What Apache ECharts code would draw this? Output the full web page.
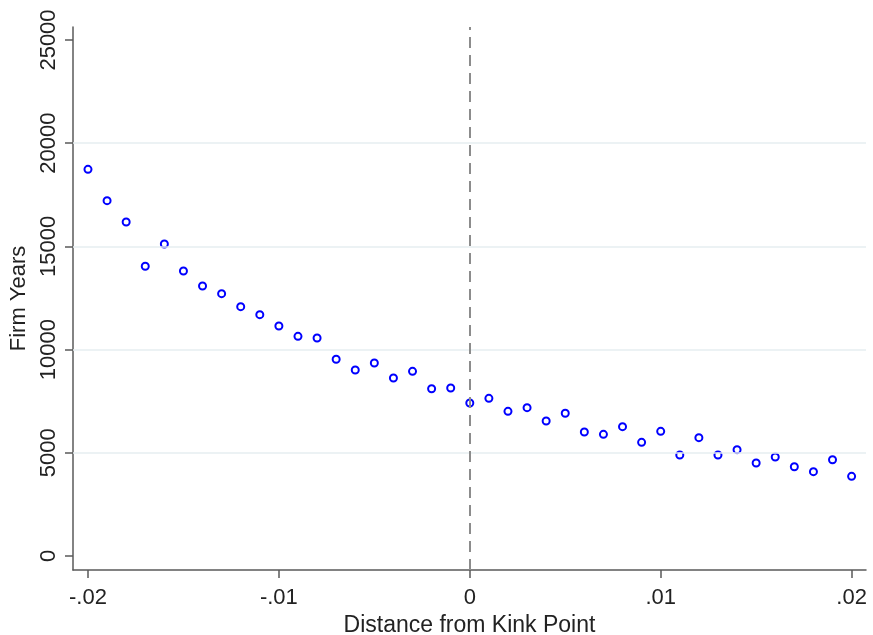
<!DOCTYPE html>
<html>
<head>
<meta charset="utf-8">
<script src="https://cdn.jsdelivr.net/npm/echarts@6/dist/echarts.min.js"></script>
<style>
html,body{margin:0;padding:0;background:#fff;overflow:hidden;}
#chart{width:873px;height:635px;}
</style>
</head>
<body>
<div id="chart"></div>
<script>
var distance = [-0.020,-0.019,-0.018,-0.017,-0.016,-0.015,-0.014,-0.013,-0.012,-0.011,
  -0.010,-0.009,-0.008,-0.007,-0.006,-0.005,-0.004,-0.003,-0.002,-0.001,
  0.000,0.001,0.002,0.003,0.004,0.005,0.006,0.007,0.008,0.009,
  0.010,0.011,0.012,0.013,0.014,0.015,0.016,0.017,0.018,0.019,0.020];
var firmYears = [18735,17215,16182,14036,15116,13808,13081,12709,12080,11692,
  11144,10643,10562,9530,9012,9351,8624,8948,8106,8140,
  7413,7640,7010,7186,6541,6914,6008,5896,6266,5508,
  6040,4893,5733,4893,5151,4506,4797,4327,4085,4666,3861];
var xTicks = [-0.02,-0.01,0,0.01,0.02];
var xTickLabels = ['-.02','-.01','0','.01','.02'];
var yTicks = [0,5000,10000,15000,20000,25000];
var yGrid = [5000,10000,15000,20000];
var kinkPoint = 0;

var chart = echarts.init(document.getElementById('chart'), null, {renderer:'canvas', width:873, height:635});
var font = 'Liberation Sans, Arial, sans-serif';
var axisColor = '#5a5a5a';
var points = distance.map(function(d,i){return [d, firmYears[i]];});

chart.setOption({
  animation:false,
  backgroundColor:'#ffffff',
  grid:{left:73, top:27, width:793, height:543, containLabel:false, outerBoundsMode:'none'},
  xAxis:{
    type:'value', min:-0.020785, max:0.020754,
    name:'Distance from Kink Point', nameLocation:'middle', nameGap:35,
    nameTextStyle:{fontFamily:font, fontSize:23, color:'#222'},
    axisLine:{show:true, onZero:false, lineStyle:{color:axisColor, width:1.5}},
    axisTick:{show:true, length:8, customValues:xTicks, lineStyle:{color:axisColor, width:1.5}},
    axisLabel:{show:true, margin:17, customValues:xTicks, fontFamily:font, fontSize:22, color:'#222',
      formatter:function(v){var i=xTicks.findIndex(function(t){return Math.abs(t-v)<1e-9;});return i>=0?xTickLabels[i]:'';}},
    splitLine:{show:false}
  },
  yAxis:{
    type:'value', min:-678, max:25630,
    name:'Firm Years', nameLocation:'middle', nameGap:42,
    nameTextStyle:{fontFamily:font, fontSize:22, color:'#222'},
    axisLine:{show:true, onZero:false, lineStyle:{color:axisColor, width:1.5}},
    axisTick:{show:true, length:8, customValues:yTicks, lineStyle:{color:axisColor, width:1.5}},
    axisLabel:{show:true, rotate:90, margin:13, customValues:yTicks, fontFamily:font, fontSize:22, color:'#222',
      formatter:function(v){return String(Math.round(v));}},
    splitLine:{show:false}
  },
  series:[
    {
      type:'scatter', data:[], z:1, silent:true,
      markLine:{
        silent:true, symbol:['none','none'], label:{show:false},
        lineStyle:{color:'#e6eef0', width:1.5, type:'solid'},
        data:yGrid.map(function(v){return {yAxis:v};})
      }
    },
    {
      type:'scatter', data:[], z:2, silent:true,
      markLine:{
        silent:true, symbol:['none','none'], label:{show:false},
        lineStyle:{color:'#8c8c8c', width:2, type:[11,7]},
        data:[{xAxis:kinkPoint}]
      }
    },
    {
      type:'scatter', data:points, z:3,
      symbol:'emptyCircle', symbolSize:7,
      itemStyle:{color:'#0000ff', borderWidth:2.4, opacity:1}
    }
  ]
});
</script>
</body>
</html>
